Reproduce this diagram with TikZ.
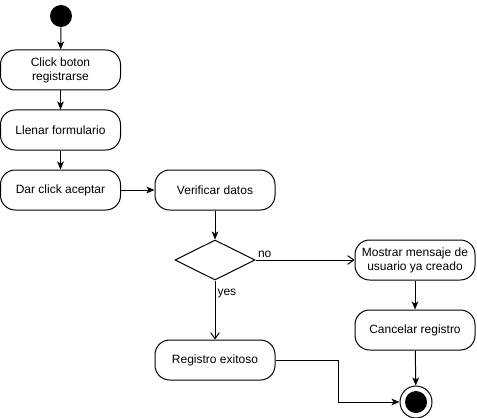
\documentclass[tikz,border=0pt]{standalone}
\usepackage{fontspec}
\setmainfont{Liberation Sans}
\usepackage{tikz}
\usetikzlibrary{shapes.geometric, arrows.meta}
\tikzstyle{activity} = [
	rectangle,
	rounded corners=11pt,
	minimum width=90pt,
	minimum height=30pt,
	text centered,
	align=center,
	line width=0.75pt,
	draw=black,
	fill=white,
	font=\fontsize{9pt}{10.5pt}\selectfont
]
\tikzstyle{decision} = [
	diamond,
	minimum width=60pt,
	minimum height=30pt,
	inner sep=0pt,
	line width=0.75pt,
	draw=black,
	fill=white
]
\tikzstyle{arrow} = [line width=0.75pt, -{Stealth[length=6pt, width=5pt, inset=1.5pt]}]
\tikzstyle{openarrow} = [line width=0.75pt, -{Straight Barb[length=4.5pt, width=6.5pt]}]
\tikzstyle{guard} = [font=\fontsize{9pt}{10.5pt}\selectfont, inner sep=1.5pt]

\begin{document}
\begin{tikzpicture}[x=0.75pt, y=-0.75pt]
    \useasboundingbox (0, 0) rectangle (477, 417);
    \node at (61, 16) [circle, fill=black, minimum size=16.5pt, inner sep=0pt] (start) {};
    \node at (60.5, 70) [activity] (click) {Click boton\\registrarse};
    \node at (60.5, 130) [activity] (llenar) {Llenar formulario};
    \node at (60.5, 190) [activity] (aceptar) {Dar click aceptar};
    \node at (215, 190) [activity] (verificar) {Verificar datos};
    \node at (215, 260) [decision] (check) {};
    \node at (415, 260) [activity] (mostrar) {Mostrar mensaje de\\usuario ya creado};
    \node at (415, 330) [activity] (cancelar) {Cancelar registro};
    \node at (215, 360) [activity] (exitoso) {Registro exitoso};
    \node at (416, 402) [circle, draw=black, line width=0.75pt, fill=white, minimum size=24pt, inner sep=0pt] (end) {};
    \node at (end) [circle, fill=black, minimum size=16.5pt, inner sep=0pt] (end inner) {};
    \coordinate (bend) at (338, 402);
    \draw [arrow] (start) -- (click);
    \draw [arrow] (click) -- (llenar);
    \draw [arrow] (llenar) -- (aceptar);
    \draw [arrow] (aceptar) -- (verificar);
    \draw [arrow] (verificar) -- (check);
    \draw [openarrow] (check.east) -- node [guard, pos=0, above right] {no} (mostrar);
    \draw [openarrow] (check.south) -- node [guard, pos=0.22, right] {yes} (exitoso);
    \draw [arrow] (mostrar) -- (cancelar);
    \draw [arrow] (cancelar) -- (end);
    \draw [arrow] (exitoso.east) -| (bend) -- (end);
  \end{tikzpicture}
\end{document}
